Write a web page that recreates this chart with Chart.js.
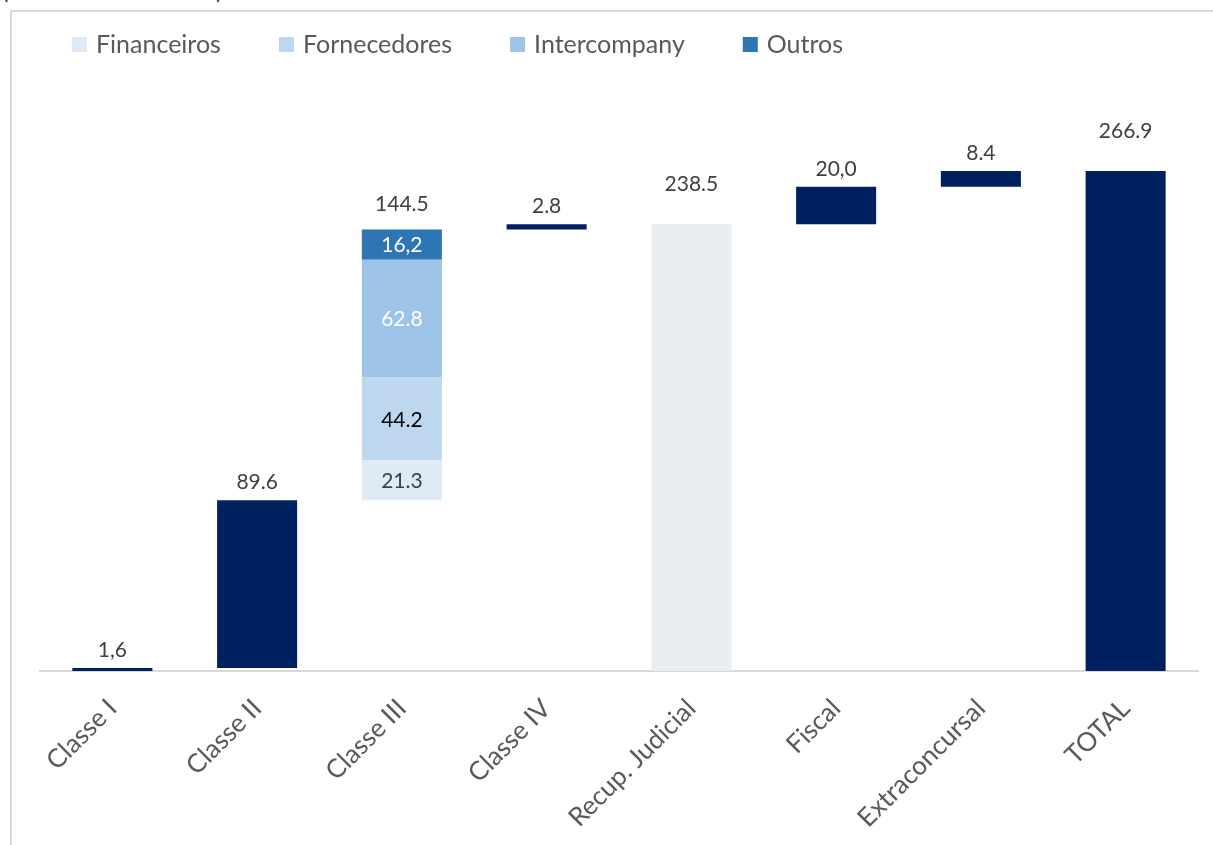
<!DOCTYPE html>
<html lang="pt-BR">
<head>
<meta charset="utf-8">
<title>Composição da dívida</title>
<script src="https://cdn.jsdelivr.net/npm/chart.js@4.4.1/dist/chart.umd.min.js"></script>
<style>
  html, body { margin: 0; padding: 0; background: #fff; overflow: hidden; }
  #wrap { position: relative; width: 1213px; height: 845px; overflow: hidden; }
  #frame {
    position: absolute; left: 10px; top: 10px; right: -10px; bottom: -10px;
    border-left: 2px solid #d9d9d9; border-top: 2px solid #d9d9d9;
  }
  #unit {
    position: absolute; left: 2px; top: -25px; line-height: 29px;
    font: 24px Lato, sans-serif; color: #1f3864; white-space: nowrap;
  }
  #chart { position: absolute; left: 0; top: 0; }
</style>
</head>
<body>
<div id="wrap">
  <div id="unit">(Em milhões de reais)</div>
  <div id="frame"></div>
  <canvas id="chart" width="1213" height="845"></canvas>
</div>
<script>
// categorias do eixo x
var categories = ["Classe I", "Classe II", "Classe III", "Classe IV", "Recup. Judicial", "Fiscal", "Extraconcursal", "TOTAL"];

// degraus da cascata (null = subtotal ou coluna quebrada por tipo)
var stepValues = [1.6, 89.6, null, 2.8, null, 20.0, 8.4, null];
// subtotais que partem do zero
var subtotalValues = [null, null, null, null, 238.5, null, null, 266.9];

// abertura da Classe III por tipo de credor
var partNames = ["Financeiros", "Fornecedores", "Intercompany", "Outros"];
var classeIIIParts = [21.3, 44.2, 62.8, 16.2];
var classeIIIIndex = 2;

// rótulos escritos como no relatório
var valueLabels = ["1,6", "89.6", "144.5", "2.8", "238.5", "20,0", "8.4", "266.9"];
var partLabels = ["21.3", "44.2", "62.8", "16,2"];

var NAVY = "#002060";
var partColors = ["#deebf7", "#bdd7ee", "#9dc3e6", "#2e75b6"];
var partTextColors = ["#404040", "#000000", "#ffffff", "#ffffff"];

// monta as barras flutuantes [início, fim]
var steps = categories.map(function () { return null; });
var subtotals = categories.map(function () { return null; });
var parts = partNames.map(function () { return categories.map(function () { return null; }); });
var running = 0;
categories.forEach(function (c, i) {
  if (subtotalValues[i] != null) {
    subtotals[i] = [0, subtotalValues[i]];
    running = subtotalValues[i];
  } else if (i === classeIIIIndex) {
    classeIIIParts.forEach(function (v, k) {
      parts[k][i] = [running, running + v];
      running += v;
    });
  } else {
    steps[i] = [running, running + stepValues[i]];
    running += stepValues[i];
  }
});

var datasets = partNames.map(function (name, k) {
  return {
    label: name,
    data: parts[k],
    backgroundColor: partColors[k],
    innerLabel: partLabels[k],
    innerColor: partTextColors[k]
  };
});
datasets.push({ label: "Degraus", data: steps, backgroundColor: NAVY });
datasets.push({
  label: "Subtotais",
  data: subtotals,
  backgroundColor: categories.map(function (c, i) { return i === categories.length - 1 ? NAVY : "#e9edf2"; })
});

// legenda desenhada à mão para ter o espaçamento do relatório
var legendPlugin = {
  id: "creditorLegend",
  afterDraw: function (chart) {
    var ctx = chart.ctx;
    var x = 72, y = 44;
    ctx.save();
    ctx.font = "25px Lato";
    ctx.textBaseline = "middle";
    ctx.textAlign = "left";
    partNames.forEach(function (name, k) {
      ctx.fillStyle = partColors[k];
      ctx.fillRect(x, y - 7, 15, 15);
      ctx.fillStyle = "#595959";
      ctx.fillText(name, x + 24, y + 1);
      x += 24 + ctx.measureText(name).width + 58;
    });
    ctx.restore();
  }
};

// rótulos de valor: dentro dos blocos da Classe III e acima de cada coluna
var valueLabelPlugin = {
  id: "valueLabels",
  afterDatasetsDraw: function (chart) {
    var ctx = chart.ctx;
    ctx.save();
    ctx.font = "21px Lato";
    ctx.textAlign = "center";
    ctx.textBaseline = "middle";
    var tops = categories.map(function () { return null; });
    var xs = categories.map(function () { return null; });
    chart.data.datasets.forEach(function (ds, d) {
      var meta = chart.getDatasetMeta(d);
      meta.data.forEach(function (bar, i) {
        if (ds.data[i] == null) return;
        var top = Math.min(bar.y, bar.base);
        if (tops[i] == null || top < tops[i]) tops[i] = top;
        xs[i] = bar.x;
        if (ds.innerLabel) {
          ctx.fillStyle = ds.innerColor;
          ctx.fillText(ds.innerLabel, bar.x, (bar.y + bar.base) / 2 + 1);
        }
      });
    });
    ctx.fillStyle = "#404040";
    categories.forEach(function (c, i) {
      var gap = subtotalValues[i] != null ? 40 : (i === classeIIIIndex ? 25 : 18);
      ctx.fillText(valueLabels[i], xs[i], tops[i] - gap);
    });
    ctx.restore();
  }
};

Chart.defaults.font.family = "Lato";

var ctx = document.getElementById("chart").getContext("2d");
var myChart = new Chart(ctx, {
  type: "bar",
  data: { labels: categories, datasets: datasets },
  plugins: [legendPlugin, valueLabelPlugin],
  options: {
    responsive: false,
    animation: false,
    layout: { padding: { left: 40, right: 15, top: 109, bottom: 0 } },
    datasets: { bar: { categoryPercentage: 0.553, barPercentage: 1, borderWidth: 0 } },
    plugins: {
      legend: { display: false },
      tooltip: { enabled: false }
    },
    scales: {
      x: {
        stacked: true,
        grid: { display: false },
        border: { color: "#d9d9d9", width: 2 },
        ticks: {
          color: "#595959",
          font: { size: 26 },
          minRotation: 45,
          maxRotation: 45,
          padding: 14
        },
        afterFit: function (scale) { scale.height = 174; }
      },
      y: {
        display: false,
        stacked: false,
        min: 0,
        max: 300
      }
    }
  }
});
</script>
</body>
</html>
